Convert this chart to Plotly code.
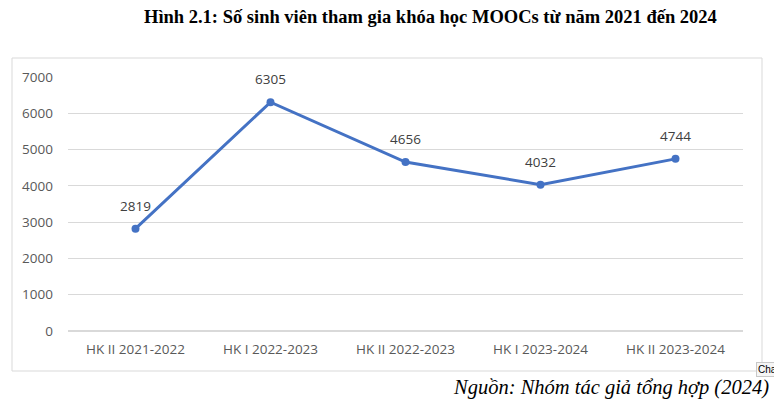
import plotly.graph_objects as go

categories = ["HK II 2021-2022", "HK I 2022-2023", "HK II 2022-2023", "HK I 2023-2024", "HK II 2023-2024"]
values = [2819, 6305, 4656, 4032, 4744]
y_ticks = [0, 1000, 2000, 3000, 4000, 5000, 6000, 7000]

OFF = 8  # browser default body margin
W, H = 782 - OFF, 399 - OFF
# plot area in page pixels: x 68..743, y 77..331
L = 68 - OFF
R = W - (743 - OFF)
T = 77 - OFF
B = H - (331 - OFF)

FONT = "Open Sans, Liberation Sans, sans-serif"

fig = go.Figure()
fig.add_trace(go.Scatter(
    x=categories, y=values, mode="lines+markers",
    line=dict(color="#4472C4", width=3),
    marker=dict(color="#4472C4", size=8),
    cliponaxis=False, hoverinfo="skip",
))
fig.add_trace(go.Scatter(
    x=categories, y=values, mode="markers+text",
    text=[str(v) for v in values], textposition="top center",
    textfont=dict(family=FONT, size=13.5, color="#404040"),
    marker=dict(size=22, opacity=0),
    cliponaxis=False, hoverinfo="skip",
))

def px(x):
    return (x - OFF - L) / (W - L - R)

def py(y):
    return (H - B - (y - OFF)) / (H - T - B)

fig.update_layout(
    width=W, height=H,
    margin=dict(l=L, r=R, t=T, b=B),
    paper_bgcolor="white", plot_bgcolor="white",
    showlegend=False,
    xaxis=dict(range=[-0.5, 4.5], showgrid=False, showline=False, zeroline=False, ticks="",
               tickfont=dict(family=FONT, size=13.5, color="#595959"),
               ticklabelstandoff=8, fixedrange=True),
    yaxis=dict(range=[0, 7000], tickvals=y_ticks, showgrid=True, gridcolor="#d9d9d9", gridwidth=1,
               zeroline=True, zerolinecolor="#d9d9d9", showline=False, ticks="",
               tickfont=dict(family=FONT, size=13.5, color="#595959"),
               ticklabelstandoff=14, fixedrange=True),
    shapes=[dict(type="rect", xref="paper", yref="paper",
                 x0=px(12), x1=px(762), y0=py(371), y1=py(58),
                 line=dict(color="#d9d9d9", width=1), fillcolor="rgba(0,0,0,0)", layer="below")],
    annotations=[
        dict(text="<b>Hình 2.1: Số sinh viên tham gia khóa học MOOCs từ năm 2021 đến 2024</b>",
             xref="paper", yref="paper", x=px(430), y=py(17), xanchor="center", yanchor="middle",
             showarrow=False, font=dict(family="Liberation Serif, serif", size=18.5, color="black")),
        dict(text="<i>Nguồn: Nhóm tác giả tổng hợp (2024)</i>",
             xref="paper", yref="paper", x=px(771), y=py(387), xanchor="right", yanchor="middle",
             showarrow=False, font=dict(family="Liberation Serif, serif", size=20.5, color="black")),
        dict(text="Char", xref="paper", yref="paper", x=px(756), y=py(369), xanchor="left", yanchor="middle",
             showarrow=False, font=dict(family="Liberation Sans, sans-serif", size=10, color="black"),
             bgcolor="#f5f5f5", bordercolor="#c8c8c8", borderwidth=1, borderpad=1),
    ],
)

fig.write_html("out.html")
